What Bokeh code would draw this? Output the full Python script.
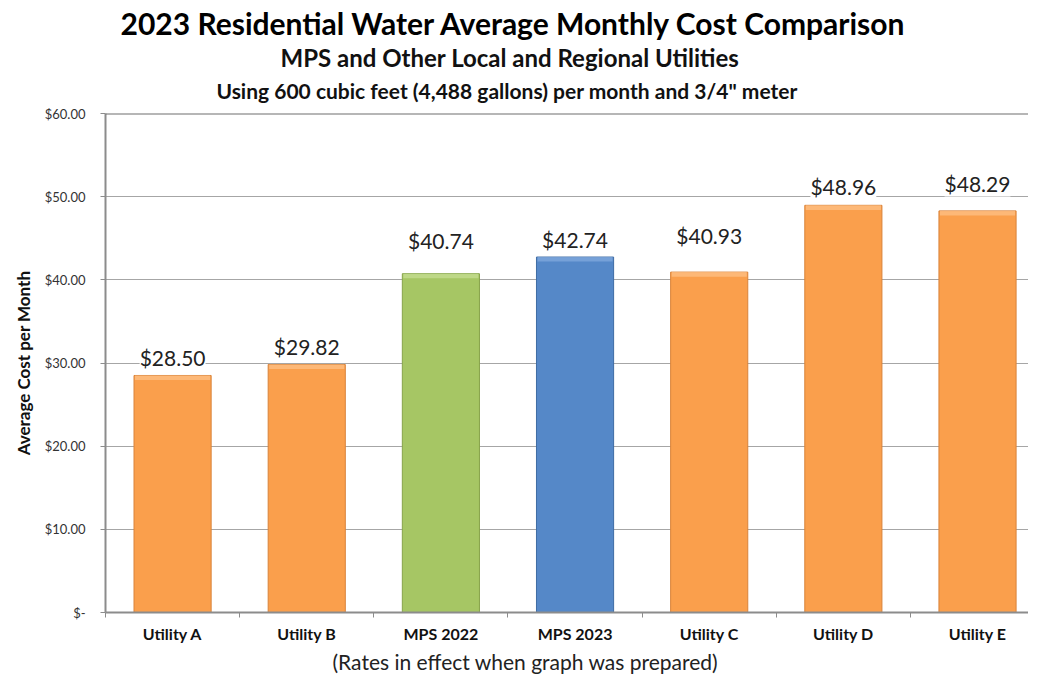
from bokeh.plotting import figure
from bokeh.models import (ColumnDataSource, Range1d, FixedTicker, Title, LabelSet, Span)
from bokeh.core.properties import value
from bokeh.embed import file_html
from bokeh.resources import INLINE

# ---- data ----
categories = ["Utility A", "Utility B", "MPS 2022", "MPS 2023", "Utility C", "Utility D", "Utility E"]
costs = [28.50, 29.82, 40.74, 42.74, 40.93, 48.96, 48.29]
y_ticks = [0, 10, 20, 30, 40, 50, 60]
y_tick_labels = ["$-", "$10.00", "$20.00", "$30.00", "$40.00", "$50.00", "$60.00"]
title_main = "2023 Residential Water Average Monthly Cost Comparison"
title_sub = "MPS and Other Local and Regional Utilities"
title_note = 'Using 600 cubic feet (4,488 gallons) per month and 3/4" meter'
caption = "(Rates in effect when graph was prepared)"

# ---- style ----
ORANGE, ORANGE_EDGE, ORANGE_HI = "#FA9F4C", "#D9833A", "#FDC085"
GREEN, GREEN_EDGE, GREEN_HI = "#A6C664", "#86A34A", "#C6DD93"
BLUE, BLUE_EDGE, BLUE_HI = "#5588C8", "#3E6BA3", "#82AADD"
fills = [ORANGE, ORANGE, GREEN, BLUE, ORANGE, ORANGE, ORANGE]
edges = [ORANGE_EDGE, ORANGE_EDGE, GREEN_EDGE, BLUE_EDGE, ORANGE_EDGE, ORANGE_EDGE, ORANGE_EDGE]
highs = [ORANGE_HI, ORANGE_HI, GREEN_HI, BLUE_HI, ORANGE_HI, ORANGE_HI, ORANGE_HI]
label_lift = [18, 18, 33, 18, 37, 19, 27]  # px above bar top (label centre)
BAND = 0.55  # height of top bevel highlight, in data units
FONT = "Lato"

xs = list(range(len(categories)))
src = ColumnDataSource(dict(
    x=xs, cost=costs, fill=fills, edge=edges, high=highs,
    band_bottom=[c - BAND for c in costs],
    label=[f"${c:.2f}" for c in costs], lift=label_lift,
))

p = figure(width=1028, height=675, output_backend="svg", toolbar_location=None,
           x_range=Range1d(-0.5, 6.38), y_range=Range1d(0, 60),
           min_border_left=105, min_border_right=0, min_border_top=113,
           min_border_bottom=63)
p.outline_line_color = None
p.background_fill_color = "white"
p.title.visible = False

p.vbar(x="x", top="cost", width=0.575, source=src, fill_color="fill",
       line_color="edge", line_width=1)
p.vbar(x="x", top="cost", bottom="band_bottom", width=0.56, source=src,
       fill_color="high", fill_alpha=0.75, line_color=None)

labels = LabelSet(x="x", y="cost", text="label", source=src, y_offset="lift",
                  text_align="center", text_baseline="middle",
                  text_font=value(FONT), text_font_size="21px", text_color="#222222",
                  background_fill_color="white", background_fill_alpha=1.0)
p.add_layout(labels)

# x axis
xa = p.xaxis[0]
xa.ticker = FixedTicker(ticks=xs, minor_ticks=[i - 0.5 for i in range(len(categories) + 1)])
xa.major_label_overrides = {i: c for i, c in enumerate(categories)}
xa.major_tick_out = 0
xa.major_tick_in = 0
xa.minor_tick_out = 5
xa.minor_tick_in = 0
xa.minor_tick_line_color = "#8C8C8C"
xa.axis_line_color = "#8C8C8C"
xa.axis_line_width = 2
xa.major_label_text_font = FONT
xa.major_label_text_font_style = "bold"
xa.major_label_text_font_size = "16px"
xa.major_label_text_color = "#111111"
xa.major_label_standoff = 6

# y axis
ya = p.yaxis[0]
ya.ticker = FixedTicker(ticks=y_ticks, minor_ticks=[])
ya.major_label_overrides = {t: l for t, l in zip(y_ticks, y_tick_labels)}
ya.major_tick_out = 5
ya.major_tick_in = 0
ya.major_tick_line_color = "#8C8C8C"
ya.axis_line_color = "#8C8C8C"
ya.axis_line_width = 2
ya.major_label_text_font = FONT
ya.major_label_text_font_size = "13px"
ya.major_label_text_color = "#333333"
ya.major_label_standoff = 15
ya.axis_label = "Average Cost per Month"
ya.axis_label_text_font = FONT
ya.axis_label_text_font_style = "bold"
ya.axis_label_text_font_size = "17px"
ya.axis_label_text_color = "#111111"
ya.axis_label_standoff = 8

p.xgrid.grid_line_color = None
p.ygrid.ticker = FixedTicker(ticks=y_ticks[1:])
p.ygrid.grid_line_color = "#A6A6A6"
p.ygrid.grid_line_width = 1

# top line of plot area
p.add_layout(Span(location=60, dimension="width", line_color="#6E6E6E", line_width=2))

# caption below the axis
p.add_layout(Title(text=caption, align="left", offset=227, text_font=FONT,
                   text_font_style="normal", text_font_size="21px",
                   text_color="#222222", standoff=3), "below")

# titles (first added sits nearest the plot); a thin spacer keeps the gap to the plot
p.add_layout(Title(text=" ", text_font_size="6px", standoff=0), "above")
p.add_layout(Title(text=title_note, align="left", offset=111, text_font=FONT,
                   text_font_style="bold", text_font_size="21px",
                   text_color="#111111", standoff=6), "above")
p.add_layout(Title(text=title_sub, align="left", offset=175, text_font=FONT,
                   text_font_style="bold", text_font_size="24px",
                   text_color="#111111", standoff=1), "above")
p.add_layout(Title(text=title_main, align="left", offset=15, text_font=FONT,
                   text_font_style="bold", text_font_size="30px",
                   text_color="#000000", standoff=0), "above")

open("out.html", "w").write(file_html(p, INLINE))
